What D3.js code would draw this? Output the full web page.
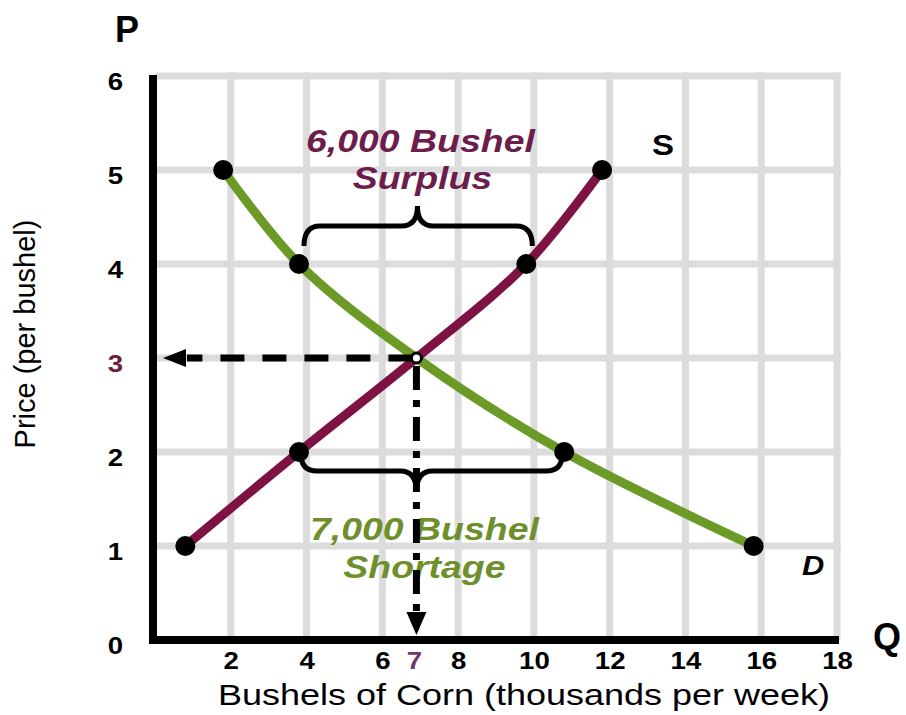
<!DOCTYPE html>
<html>
<head>
    <title>Surplus and shortage - corn market</title>
    <script src="https://d3js.org/d3.v7.min.js"></script>
    <style>
        body { margin: 0; background: #fff; }
        text { font-family: "Liberation Sans", Arial, sans-serif; }
    </style>
</head>
<body>
<div id="chart"></div>
<script>
    // Data
    const priceTicks = [0, 1, 2, 3, 4, 5, 6];
    const qtyTicks = [2, 4, 6, 8, 10, 12, 14, 16, 18];
    const gridQty = [2, 4, 6, 8, 10, 12, 14, 16, 18];
    const gridPrice = [1, 2, 3, 4, 5, 6];

    // Demand curve (quantity in thousands, price per bushel)
    const demandQ = [1.8, 3.8, 6.9, 10.8, 15.8];
    const demandP = [5, 4, 3, 2, 1];

    // Supply curve
    const supplyQ = [0.8, 3.8, 6.9, 9.8, 11.8];
    const supplyP = [1, 2, 3, 4, 5];

    // Equilibrium
    const eqQ = 6.9;
    const eqP = 3;
    const eqQLabel = "7";

    const colors = {
        demand: "#6c9a26",
        supply: "#7e1243",
        surplusText: "#6d1d4b",
        shortageText: "#6e8f2c",
        grid: "#dcdcdc"
    };

    const W = 906, H = 715;
    const margin = { top: 76, right: 69, bottom: 75, left: 155 };

    const svg = d3.select("#chart").append("svg")
        .attr("width", W)
        .attr("height", H);

    // scales
    const x = d3.scaleLinear().domain([0, 18]).range([margin.left, W - margin.right]);
    const y = d3.scaleLinear().domain([0, 6]).range([H - margin.bottom, margin.top]);

    // helper for the wide lettering of the original
    function label(txt, px, py, opt) {
        const o = Object.assign({ size: 30, weight: "normal", style: "normal", anchor: "middle", sx: 1.2, fill: "#000" }, opt);
        return svg.append("text")
            .attr("transform", `translate(${px},${py}) scale(${o.sx},1)`)
            .attr("text-anchor", o.anchor)
            .attr("font-size", o.size)
            .attr("font-weight", o.weight)
            .attr("font-style", o.style)
            .attr("fill", o.fill)
            .text(txt);
    }

    // grid
    const grid = svg.append("g").attr("stroke", colors.grid).attr("stroke-width", 7);
    grid.selectAll(".gx").data(gridQty).enter().append("line")
        .attr("x1", d => x(d)).attr("x2", d => x(d))
        .attr("y1", y(6) - 3.5).attr("y2", y(0));
    grid.selectAll(".gy").data(gridPrice).enter().append("line")
        .attr("x1", x(0)).attr("x2", x(18) + 3.5)
        .attr("y1", d => y(d)).attr("y2", d => y(d));

    // surplus / shortage captions
    const midX = x(eqQ);
    label("6,000 Bushel", midX + 4, y(4) - 112, { size: 32, weight: "bold", style: "italic", sx: 1.17, fill: colors.surplusText });
    label("Surplus", midX + 6, y(4) - 75, { size: 32, weight: "bold", style: "italic", sx: 1.17, fill: colors.surplusText });
    label("7,000 Bushel", midX + 8, y(2) + 88, { size: 32, weight: "bold", style: "italic", sx: 1.17, fill: colors.shortageText });
    label("Shortage", midX + 8, y(2) + 126, { size: 32, weight: "bold", style: "italic", sx: 1.17, fill: colors.shortageText });

    // curves
    const demand = demandQ.map((q, i) => ({ q: q, p: demandP[i] }));
    const supply = supplyQ.map((q, i) => ({ q: q, p: supplyP[i] }));
    const line = d3.line().x(d => x(d.q)).y(d => y(d.p)).curve(d3.curveCatmullRom.alpha(0.5));

    svg.append("path").datum(demand)
        .attr("d", line)
        .attr("fill", "none")
        .attr("stroke", colors.demand)
        .attr("stroke-width", 9);
    svg.append("path").datum(supply)
        .attr("d", line)
        .attr("fill", "none")
        .attr("stroke", colors.supply)
        .attr("stroke-width", 9);

    // braces
    function brace(x1, x2, xm, yEnd, yLine, yTip) {
        const r = 16;
        const s = Math.sign(x2 - x1);
        return `M${x1},${yEnd} Q${x1},${yLine} ${x1 + r * s},${yLine} L${xm - r * s},${yLine}` +
            ` Q${xm},${yLine} ${xm},${yTip} Q${xm},${yLine} ${xm + r * s},${yLine}` +
            ` L${x2 - r * s},${yLine} Q${x2},${yLine} ${x2},${yEnd}`;
    }
    svg.append("path")
        .attr("d", brace(x(demandQ[1]) + 5, x(supplyQ[3]) + 6, midX + 1, y(4) - 18, y(4) - 38, y(4) - 58))
        .attr("fill", "none").attr("stroke", "#000").attr("stroke-width", 5);
    svg.append("path")
        .attr("d", brace(x(supplyQ[1]) + 2, x(demandQ[3]) - 2, midX, y(2) + 2, y(2) + 19, y(2) + 40))
        .attr("fill", "none").attr("stroke", "#000").attr("stroke-width", 5);

    // dashed guides from equilibrium to the axes
    svg.append("line")
        .attr("x1", x(eqQ) - 4).attr("x2", x(0) + 32)
        .attr("y1", y(eqP)).attr("y2", y(eqP))
        .attr("stroke", "#000").attr("stroke-width", 7)
        .attr("stroke-dasharray", "24,18");
    svg.append("path")
        .attr("d", `M${x(0) + 8},${y(eqP)} L${x(0) + 31},${y(eqP) - 9} L${x(0) + 31},${y(eqP) + 9} Z`)
        .attr("fill", "#000");

    svg.append("line")
        .attr("x1", x(eqQ)).attr("x2", x(eqQ))
        .attr("y1", y(eqP) + 8).attr("y2", y(0) - 26)
        .attr("stroke", "#000").attr("stroke-width", 7)
        .attr("stroke-dasharray", "24,10,7,10");
    svg.append("path")
        .attr("d", `M${x(eqQ)},${y(0) - 5} L${x(eqQ) - 10},${y(0) - 28} L${x(eqQ) + 10},${y(0) - 28} Z`)
        .attr("fill", "#000");

    // axis lines
    svg.append("line")
        .attr("x1", x(0) - 2).attr("x2", x(0) - 2)
        .attr("y1", y(6) - 1).attr("y2", y(0) + 4)
        .attr("stroke", "#000").attr("stroke-width", 8);
    svg.append("line")
        .attr("x1", x(0) - 6).attr("x2", x(18) + 2)
        .attr("y1", y(0)).attr("y2", y(0))
        .attr("stroke", "#000").attr("stroke-width", 8);

    // dots (all curve points except the equilibrium)
    const dots = demand.concat(supply).filter(d => !(d.q === eqQ && d.p === eqP));
    svg.selectAll(".dot").data(dots).enter().append("circle")
        .attr("class", "dot")
        .attr("cx", d => x(d.q)).attr("cy", d => y(d.p))
        .attr("r", 10).attr("fill", "#000");

    svg.append("circle")
        .attr("cx", x(eqQ)).attr("cy", y(eqP))
        .attr("r", 5).attr("fill", "#fff")
        .attr("stroke", "#000").attr("stroke-width", 3);

    // tick labels
    const yAxis = svg.append("g")
        .attr("transform", `translate(${x(0)},0)`)
        .call(d3.axisLeft(y).tickValues(priceTicks).tickSize(0).tickFormat(d3.format("d")));
    yAxis.select(".domain").remove();
    yAxis.attr("font-size", null).attr("font-family", null).attr("text-anchor", "middle");
    yAxis.selectAll("text")
        .attr("x", -39.5 / 1.2).attr("dy", 13)
        .attr("transform", "scale(1.2,1)")
        .attr("font-size", 23).attr("font-weight", "bold")
        .attr("fill", d => d === eqP ? "#6e1e3c" : "#000");

    const xAxis = svg.append("g")
        .attr("transform", `translate(0,${y(0)})`)
        .call(d3.axisBottom(x).tickValues(qtyTicks).tickSize(0).tickFormat(d3.format("d")));
    xAxis.select(".domain").remove();
    xAxis.attr("font-size", null).attr("font-family", null).attr("text-anchor", "middle");
    xAxis.selectAll("text")
        .attr("y", 29).attr("dy", 0)
        .attr("transform", "scale(1.15,1)")
        .attr("font-size", 24).attr("font-weight", "bold")
        .attr("fill", "#000");

    label(eqQLabel, x(eqQ) - 2, y(0) + 29, { size: 24, weight: "bold", sx: 1.15, fill: "#6e3a63" });

    // axis titles and curve names
    label("Bushels of Corn (thousands per week)", 524, y(0) + 65, { size: 30, sx: 1.2 });
    svg.append("text")
        .attr("transform", `translate(35,${y(3) - 24}) rotate(-90)`)
        .attr("text-anchor", "middle")
        .attr("font-size", 29)
        .text("Price (per bushel)");

    label("P", 115, 42, { size: 36, weight: "bold", anchor: "start", sx: 1 });
    label("Q", 873, y(0) + 9, { size: 36, weight: "bold", anchor: "start", sx: 1 });
    label("S", 652, 155, { size: 30, weight: "bold", anchor: "start", sx: 1.1 });
    label("D", 802, 575, { size: 28, weight: "bold", style: "italic", anchor: "start", sx: 1.1 });
</script>
</body>
</html>
